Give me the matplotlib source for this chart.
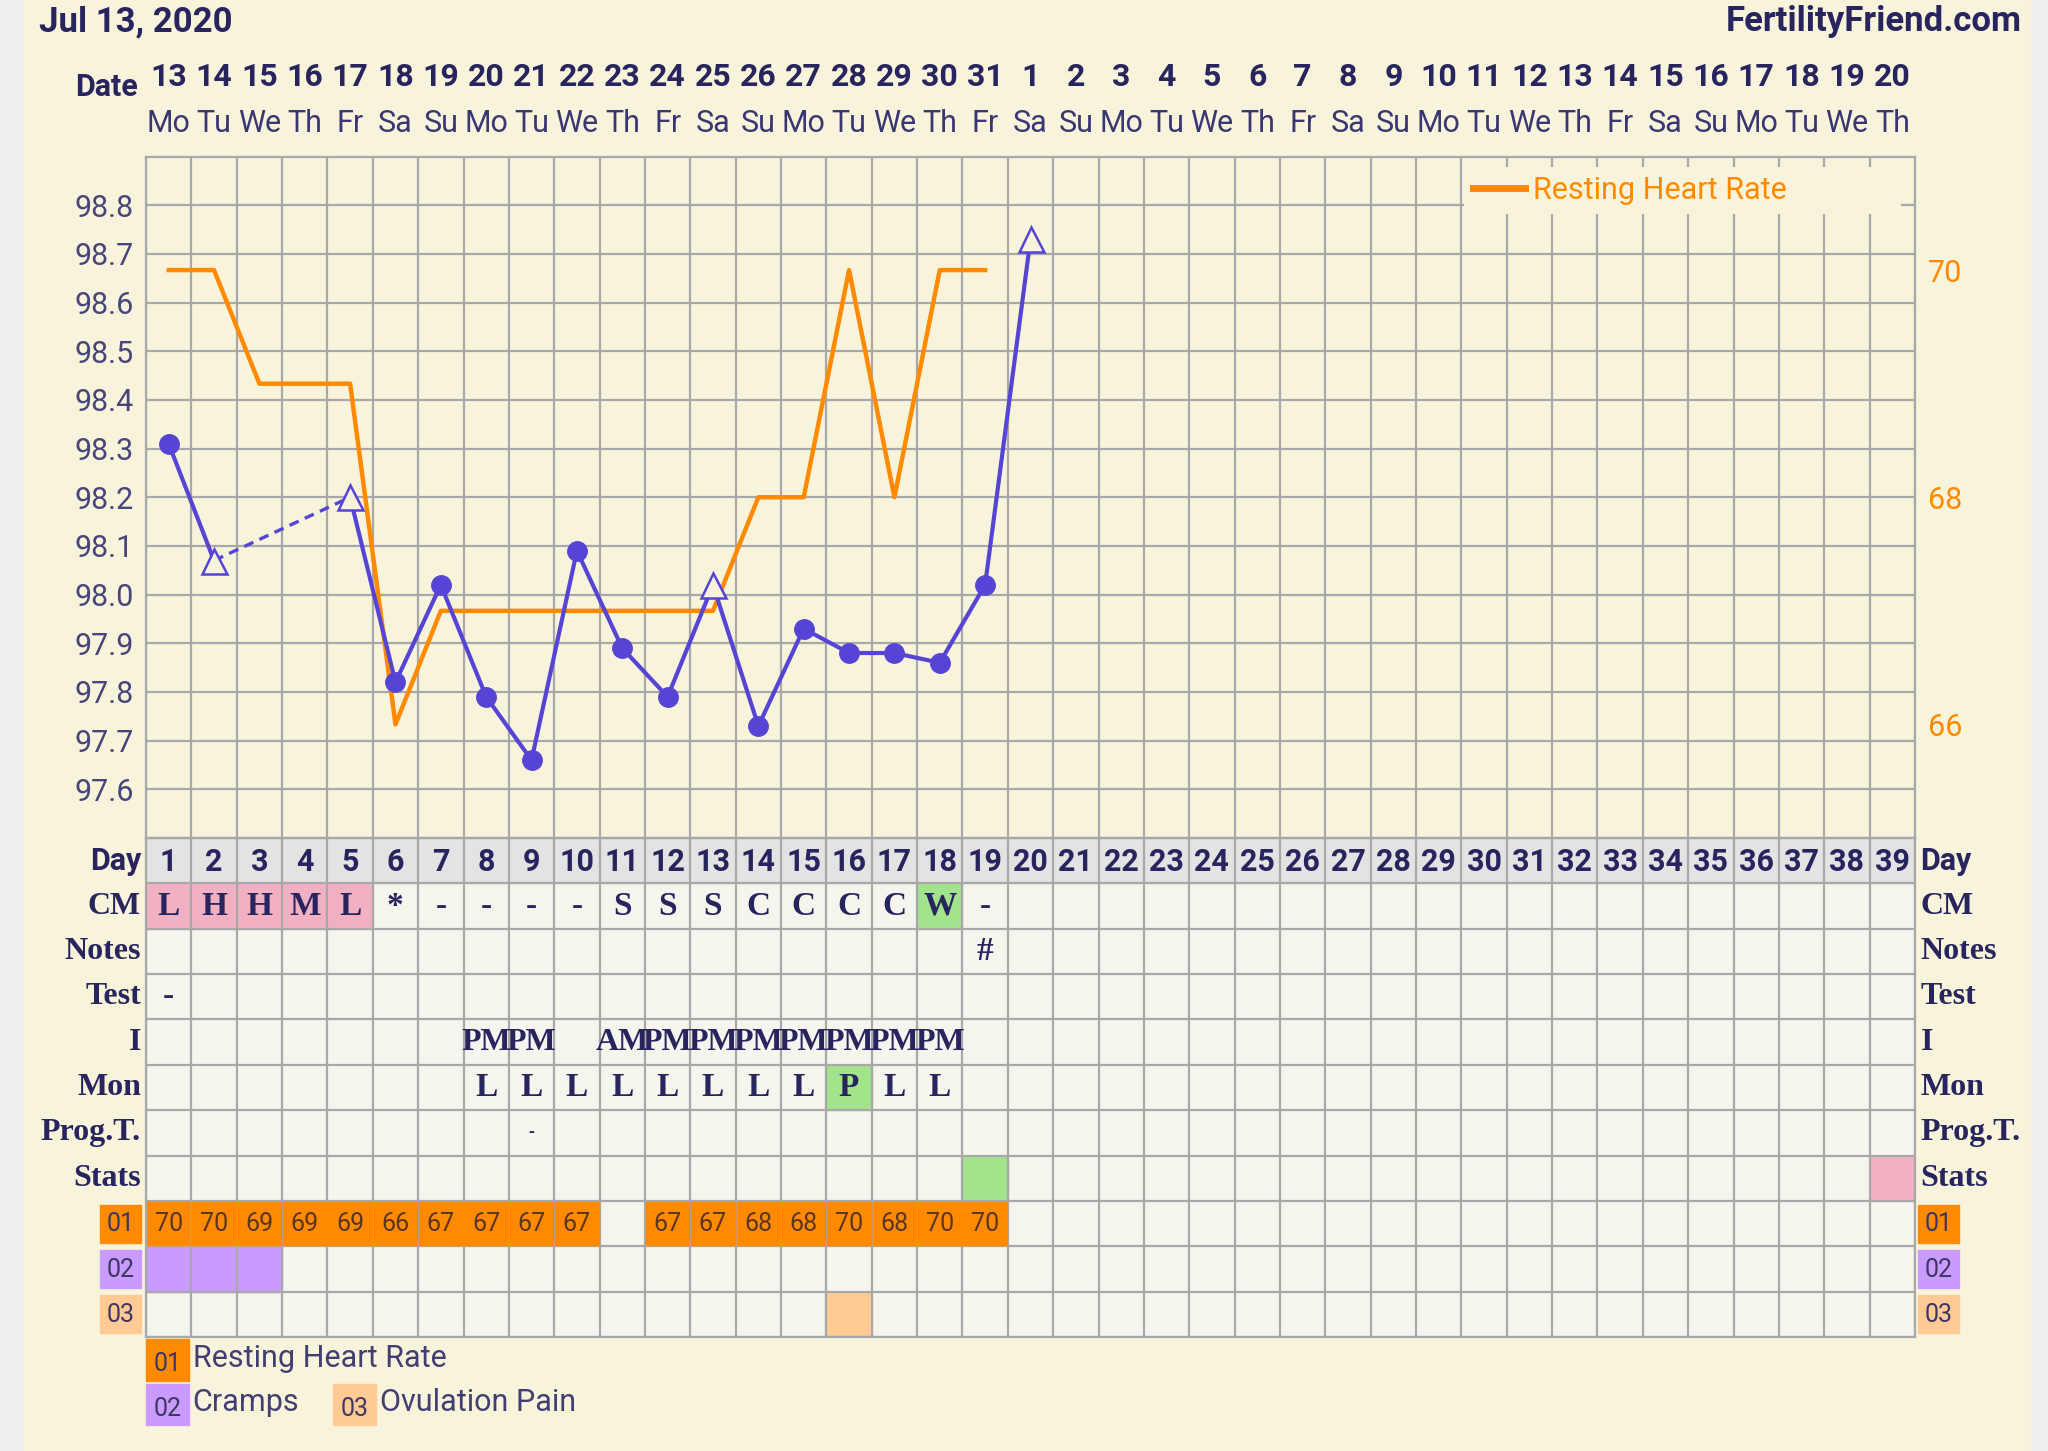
import numpy as np
import matplotlib
matplotlib.use('Agg')
import matplotlib.pyplot as plt
import matplotlib.transforms as mtransforms
from matplotlib.patches import Rectangle

# colours
BG = '#f8f4dc'
CELL_BG = '#f5f5ee'
GRID = '#a8a8a8'
DAY_BG = '#e3e3e3'
NAVY = '#28245e'
TICK_C = '#48457a'
TEMP_C = '#5644d4'
HR_C = '#ff8a00'
PINK = '#f2b0c3'
GREEN = '#a2e38b'
PURPLE = '#c99bff'
PEACH = '#ffca94'

SANS = ['Roboto', 'DejaVu Sans']
SERIF = ['Liberation Serif', 'DejaVu Serif']
plt.rcParams['font.family'] = SANS

# header labels
date_labels = ['13', '14', '15', '16', '17', '18', '19', '20', '21', '22', '23', '24', '25',
               '26', '27', '28', '29', '30', '31', '1', '2', '3', '4', '5', '6', '7', '8',
               '9', '10', '11', '12', '13', '14', '15', '16', '17', '18', '19', '20']
weekday_labels = ['Mo', 'Tu', 'We', 'Th', 'Fr', 'Sa', 'Su', 'Mo', 'Tu', 'We', 'Th', 'Fr', 'Sa',
                  'Su', 'Mo', 'Tu', 'We', 'Th', 'Fr', 'Sa', 'Su', 'Mo', 'Tu', 'We', 'Th', 'Fr',
                  'Sa', 'Su', 'Mo', 'Tu', 'We', 'Th', 'Fr', 'Sa', 'Su', 'Mo', 'Tu', 'We', 'Th']
cycle_days = list(range(1, 40))

# temperature
temp_days = [1, 2, 5, 6, 7, 8, 9, 10, 11, 12, 13, 14, 15, 16, 17, 18, 19, 20]
temp = [98.31, 98.07, 98.20, 97.82, 98.02, 97.79, 97.66, 98.09, 97.89, 97.79,
        98.02, 97.73, 97.93, 97.88, 97.88, 97.86, 98.02, 98.73]
open_days = [2, 5, 13, 20]
temp_ticks = [97.6, 97.7, 97.8, 97.9, 98.0, 98.1, 98.2, 98.3, 98.4, 98.5, 98.6, 98.7, 98.8]

# resting heart rate
hr_days = [1, 2, 3, 4, 5, 6, 7, 8, 9, 10, 12, 13, 14, 15, 16, 17, 18, 19]
hr = [70, 70, 69, 69, 69, 66, 67, 67, 67, 67, 67, 67, 68, 68, 70, 68, 70, 70]
hr_ticks = [66, 68, 70]

# table rows
cm_days = [1, 2, 3, 4, 5, 6, 7, 8, 9, 10, 11, 12, 13, 14, 15, 16, 17, 18, 19]
cm_vals = ['L', 'H', 'H', 'M', 'L', '*', '-', '-', '-', '-', 'S', 'S', 'S', 'C', 'C', 'C', 'C', 'W', '-']
cm_pink = [1, 2, 3, 4, 5]
cm_green = [18]
notes_days, notes_vals = [19], ['#']
test_days, test_vals = [1], ['-']
i_days = [8, 9, 11, 12, 13, 14, 15, 16, 17, 18]
i_vals = ['PM', 'PM', 'AM', 'PM', 'PM', 'PM', 'PM', 'PM', 'PM', 'PM']
mon_days = [8, 9, 10, 11, 12, 13, 14, 15, 16, 17, 18]
mon_vals = ['L', 'L', 'L', 'L', 'L', 'L', 'L', 'L', 'P', 'L', 'L']
mon_green = [16]
prog_days = [9]
stats_green = [19]
stats_pink = [39]
cramps_days = [1, 2, 3]
ovulation_days = [16]

row_labels = ['Day', 'CM', 'Notes', 'Test', 'I', 'Mon', 'Prog.T.', 'Stats']
code_labels = ['01', '02', '03']
code_colors = [HR_C, PURPLE, PEACH]

W, H = 2048, 1451
fig = plt.figure(figsize=(W / 100, H / 100), dpi=100, facecolor=BG)
fig.patches.append(Rectangle((0, 0), 23 / W, 1, transform=fig.transFigure, color='#efefef', zorder=0))
fig.patches.append(Rectangle((2031 / W, 0), 17 / W, 1, transform=fig.transFigure, color='#efefef', zorder=0))

left, width = 146 / W, 1769 / W
chart_rect = [left, (H - 838) / H, width, (838 - 156.5) / H]
table_rect = [left, (H - 1337) / H, width, (1337 - 838) / H]

# chart: grid + temperature ticks
ax = fig.add_axes(chart_rect, facecolor=BG)
ax.set_xlim(0.5, 39.5)
ax.set_ylim(97.5, 98.9)
ax.set_yticks(temp_ticks)
ax.set_yticklabels([f'{t:.1f}' for t in temp_ticks])
ax.set_xticks(np.arange(0.5, 40, 1), minor=True)
ax.set_xticks([])
ax.grid(True, which='minor', axis='x', color=GRID, lw=1.6)
ax.grid(True, which='major', axis='y', color=GRID, lw=1.6)
ax.tick_params(axis='y', length=0, pad=9, labelsize=22, labelcolor=TICK_C)
ax.tick_params(axis='x', which='both', length=0, labelbottom=False)
for s in ax.spines.values():
    s.set_color(GRID)
    s.set_linewidth(1.6)

# heart rate on right axis
ax_hr = ax.twinx()
ax_hr.set_ylim(65, 71)
ax_hr.set_yticks(hr_ticks)
ax_hr.tick_params(axis='y', length=0, pad=9, labelsize=22, colors=HR_C)
for s in ax_hr.spines.values():
    s.set_visible(False)
ax_hr.plot(hr_days, hr, color=HR_C, lw=3.2, label='Resting Heart Rate')
leg = ax_hr.legend(loc='upper left', bbox_to_anchor=(0.745, 0.985, 0.247, 0), mode='expand',
                   borderaxespad=0, fontsize=22, frameon=True, fancybox=False,
                   handlelength=1.7, handletextpad=0.25, borderpad=0.3, labelcolor=HR_C)
leg.get_frame().set_facecolor(BG)
leg.get_frame().set_edgecolor('none')
leg.get_frame().set_alpha(1)
for line in leg.get_lines():
    line.set_linewidth(5)

# temperature on top
ax_t = fig.add_axes(chart_rect, sharex=ax, sharey=ax, facecolor='none')
ax_t.axis('off')
td = np.array(temp_days)
tv = np.array(temp)
ax_t.plot(td[:2], tv[:2], color=TEMP_C, lw=3)
ax_t.plot(td[1:3], tv[1:3], color=TEMP_C, lw=2.4, ls=(0, (3, 2)))
ax_t.plot(td[2:], tv[2:], color=TEMP_C, lw=3)
is_open = np.isin(td, open_days)
ax_t.plot(td[~is_open], tv[~is_open], 'o', ms=14, color=TEMP_C, ls='none')
ax_t.plot(td[is_open], tv[is_open], '^', ms=18, mfc=BG, mec=TEMP_C, mew=1.8, ls='none')

# header
trans = mtransforms.blended_transform_factory(ax.transData, fig.transFigure)
for d, lab, wd in zip(cycle_days, date_labels, weekday_labels):
    ax.text(d, 1 - 77 / H, lab, transform=trans, ha='center', va='center',
            fontsize=23, fontweight='bold', color=NAVY)
    ax.text(d, 1 - 124 / H, wd, transform=trans, ha='center', va='center',
            fontsize=22, color='#3a3672')
fig.text(138 / W, 1 - 87 / H, 'Date', ha='right', va='center', fontsize=22,
         fontweight='bold', color=NAVY)
fig.text(39 / W, 1 - 22 / H, 'Jul 13, 2020', ha='left', va='center', fontsize=25,
         fontweight='bold', color=NAVY)
fig.text(2022 / W, 1 - 22 / H, 'FertilityFriend.com', ha='right', va='center', fontsize=25,
         fontweight='bold', color=NAVY)

# table
tb = fig.add_axes(table_rect, facecolor=CELL_BG)
tb.set_xlim(0.5, 39.5)
tb.set_ylim(11, 0)
tb.set_xticks(np.arange(0.5, 40, 1))
tb.set_yticks(np.arange(0, 12, 1))
tb.grid(True, color=GRID, lw=1.6)
tb.tick_params(length=0, labelbottom=False, labelleft=False)
for s in tb.spines.values():
    s.set_color(GRID)
    s.set_linewidth(1.6)

tb.add_patch(Rectangle((0.5, 0), 39, 1, color=DAY_BG))
for d in cycle_days:
    tb.text(d, 0.52, str(d), ha='center', va='center', fontsize=22, fontweight='bold', color=NAVY)


def fill(days, row, color):
    for d in days:
        tb.add_patch(Rectangle((d - 0.5, row), 1, 1, color=color))


def put(days, vals, row, size=24):
    for d, v in zip(days, vals):
        tb.text(d, row + 0.5, v, ha='center', va='center', fontsize=size,
                fontweight='bold', family=SERIF, color=NAVY)


fill(cm_pink, 1, PINK)
fill(cm_green, 1, GREEN)
put(cm_days, cm_vals, 1)
put(notes_days, notes_vals, 2)
put(test_days, test_vals, 3)
put(i_days, i_vals, 4, size=23)
fill(mon_green, 5, GREEN)
put(mon_days, mon_vals, 5)
put(prog_days, ['-'] * len(prog_days), 6, size=13)
fill(stats_green, 7, GREEN)
fill(stats_pink, 7, PINK)

for d, v in zip(hr_days, hr):
    tb.add_patch(Rectangle((d - 0.48, 8.03), 0.96, 0.94, color=HR_C, zorder=2))
    tb.text(d, 8.52, str(v), ha='center', va='center', fontsize=18, color='#5a3520', zorder=3)
fill(cramps_days, 9, PURPLE)
fill(ovulation_days, 10, PEACH)

# row labels on both sides
for r, lab in enumerate(row_labels):
    if lab == 'Day':
        kw = dict(fontsize=22, fontweight='bold', color=NAVY)
    else:
        kw = dict(fontsize=23, fontweight='bold', color=NAVY, family=SERIF)
    tb.text(0.39, r + 0.5, lab, ha='right', va='center', clip_on=False, **kw)
    tb.text(39.62, r + 0.5, lab, ha='left', va='center', clip_on=False, **kw)

for k, (lab, c) in enumerate(zip(code_labels, code_colors)):
    r = 8 + k
    for x0 in (-0.52, 39.57):
        tb.add_patch(Rectangle((x0, r + 0.08), 0.9, 0.84, color=c, clip_on=False))
        tb.text(x0 + 0.45, r + 0.52, lab, ha='center', va='center', fontsize=18,
                color='#3d3763', clip_on=False)

# legend below table
legend_items = [('01', HR_C, 'Resting Heart Rate', 0.5, 11.05),
                ('02', PURPLE, 'Cramps', 0.5, 12.03),
                ('03', PEACH, 'Ovulation Pain', 4.62, 12.03)]
for code, c, name, x0, y0 in legend_items:
    tb.add_patch(Rectangle((x0, y0), 0.95, 0.92, color=c, clip_on=False))
    tb.text(x0 + 0.475, y0 + 0.55, code, ha='center', va='center', fontsize=18,
            color='#3d3763', clip_on=False)
    tb.text(x0 + 1.03, y0 + 0.42, name, ha='left', va='center', fontsize=22,
            color='#423e72', clip_on=False)

plt.savefig('out.png', dpi=100, facecolor=BG)
plt.close()
